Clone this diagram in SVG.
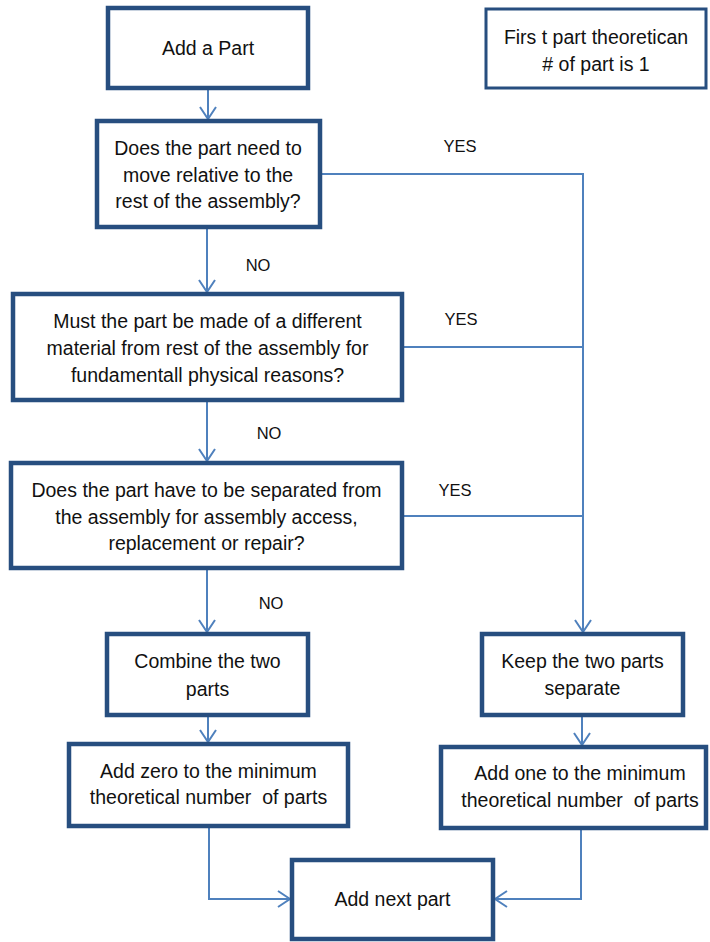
<svg xmlns="http://www.w3.org/2000/svg" width="710" height="942" viewBox="0 0 710 942">
  <style>
    .box { fill: #ffffff; stroke: #274e7f; stroke-width: 4.5; }
    .note { fill: #ffffff; stroke: #274e7f; stroke-width: 3; }
    .lbl { font-family: "Liberation Sans", Arial, sans-serif; font-size: 19.5px; fill: #111111; text-anchor: middle; white-space: pre; }
    .tag { font-family: "Liberation Sans", Arial, sans-serif; font-size: 16.5px; fill: #111111; text-anchor: middle; }
    .wire { fill: none; stroke: #4f81bd; stroke-width: 2; }
  </style>
  <defs>
    <marker id="arrow" markerUnits="userSpaceOnUse" markerWidth="14" markerHeight="18" viewBox="0 0 14 18" refX="13" refY="9" orient="auto">
      <path d="M1,1 L13,9 L1,17" fill="none" stroke="#4f81bd" stroke-width="2"/>
    </marker>
  </defs>
  <rect width="710" height="942" fill="#ffffff"/>

  <!-- connectors -->
  <g id="connectors">
    <path class="wire" d="M208,90 V119" marker-end="url(#arrow)"/>
    <path class="wire" d="M207,229 V292" marker-end="url(#arrow)"/>
    <path class="wire" d="M207,402 V461" marker-end="url(#arrow)"/>
    <path class="wire" d="M207,570 V632" marker-end="url(#arrow)"/>
    <path class="wire" d="M322,174 H583 V632" marker-end="url(#arrow)"/>
    <path class="wire" d="M404,347 H583"/>
    <path class="wire" d="M404,516 H583"/>
    <path class="wire" d="M208,717 V742" marker-end="url(#arrow)"/>
    <path class="wire" d="M582,717 V745" marker-end="url(#arrow)"/>
    <path class="wire" d="M209,828 V899 H290" marker-end="url(#arrow)"/>
    <path class="wire" d="M581,830 V899 H495" marker-end="url(#arrow)"/>
    <text class="tag" x="460" y="152">YES</text>
    <text class="tag" x="461" y="325">YES</text>
    <text class="tag" x="455" y="496">YES</text>
    <text class="tag" x="258" y="271">NO</text>
    <text class="tag" x="269" y="439">NO</text>
    <text class="tag" x="271" y="609">NO</text>
  </g>

  <g id="add-part">
    <rect class="box" x="108" y="8" width="200" height="80"/>
    <text class="lbl" x="208" y="55">Add a Part</text>
  </g>

  <g id="first-part-note">
    <rect class="note" x="486" y="9" width="220" height="79"/>
    <text class="lbl" x="596" y="44">Firs t part theoretican</text>
    <text class="lbl" x="596" y="71"># of part is 1</text>
  </g>

  <g id="q-move">
    <rect class="box" x="97" y="121" width="223" height="106"/>
    <text class="lbl" x="208" y="155">Does the part need to</text>
    <text class="lbl" x="208" y="182">move relative to the</text>
    <text class="lbl" x="208" y="208">rest of the assembly?</text>
  </g>

  <g id="q-material">
    <rect class="box" x="13" y="294" width="389" height="106"/>
    <text class="lbl" x="207.5" y="328">Must the part be made of a different</text>
    <text class="lbl" x="207.5" y="355">material from rest of the assembly for</text>
    <text class="lbl" x="207.5" y="382">fundamentall physical reasons?</text>
  </g>

  <g id="q-separate">
    <rect class="box" x="11" y="463" width="391" height="105"/>
    <text class="lbl" x="206.5" y="497">Does the part have to be separated from</text>
    <text class="lbl" x="206.5" y="524">the assembly for assembly access,</text>
    <text class="lbl" x="206.5" y="550">replacement or repair?</text>
  </g>

  <g id="combine">
    <rect class="box" x="107" y="634" width="201" height="81"/>
    <text class="lbl" x="207.5" y="668">Combine the two</text>
    <text class="lbl" x="207.5" y="696">parts</text>
  </g>

  <g id="keep-separate">
    <rect class="box" x="482" y="634" width="201" height="81"/>
    <text class="lbl" x="582.5" y="668">Keep the two parts</text>
    <text class="lbl" x="582.5" y="695">separate</text>
  </g>

  <g id="add-zero">
    <rect class="box" x="69" y="744" width="279" height="82"/>
    <text class="lbl" x="208.5" y="778">Add zero to the minimum</text>
    <text class="lbl" x="208.5" y="804" xml:space="preserve">theoretical number  of parts</text>
  </g>

  <g id="add-one">
    <rect class="box" x="441" y="747" width="265" height="81"/>
    <text class="lbl" x="580" y="780">Add one to the minimum</text>
    <text class="lbl" x="580" y="807" xml:space="preserve">theoretical number  of parts</text>
  </g>

  <g id="add-next">
    <rect class="box" x="292" y="860" width="201" height="79"/>
    <text class="lbl" x="392.5" y="906">Add next part</text>
  </g>
</svg>
